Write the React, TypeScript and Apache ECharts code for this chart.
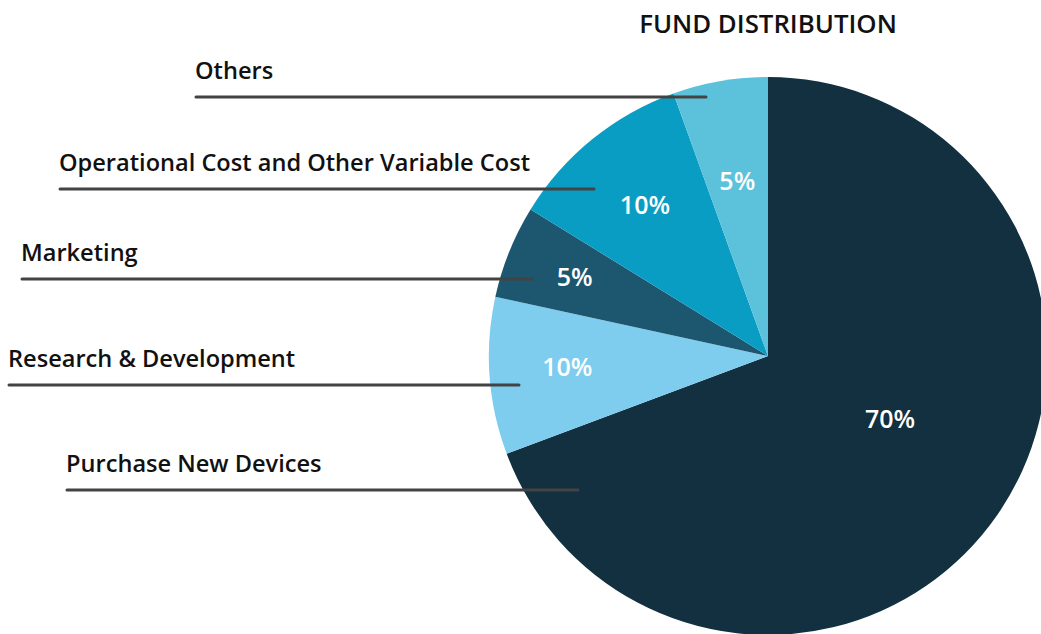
import React, { useEffect, useRef } from "react";
import * as echarts from "echarts";

// ---- data ----
const chartTitle = "FUND DISTRIBUTION";
const categories = [
  "Purchase New Devices",
  "Research & Development",
  "Marketing",
  "Operational Cost and Other Variable Cost",
  "Others",
];
const shares = [69.3, 9.1, 5.4, 10.7, 5.5];
// percentages printed on the slices
const percentLabels = ["70%", "10%", "5%", "10%", "5%"];

// ---- layout / style ----
const COLORS = ["#12303F", "#7ECDEE", "#1D566F", "#0A9DC3", "#5CC1DB"];
const CX = 768;
const CY = 356;
const R = 279;
const LABEL_RADIUS = [0.49, 0.72, 0.75, 0.7, 0.64];
const LABEL_ANGLE_SHIFT = [-8, 1.3, 0.6, 0, 0];
const CALLOUT_X = [67, 9, 22, 60, 196];
const CALLOUT_Y = [490, 385, 279, 189, 97];
const CALLOUT_END = [578, 519, 532, 594, 706];
const FONT = '"Open Sans", "Noto Sans", sans-serif';

function midAngles(): number[] {
  const total = shares.reduce((a, b) => a + b, 0);
  let acc = 0;
  return shares.map((v) => {
    const start = acc;
    acc += (v / total) * 360;
    return (start + acc) / 2;
  });
}

export default function App() {
  const ref = useRef<HTMLDivElement>(null);
  useEffect(() => {
    if (!ref.current) return;
    const chart = echarts.init(ref.current, undefined, { renderer: "svg" });
    const mids = midAngles();
    const graphics: any[] = [
      {
        type: "text",
        x: 768,
        y: 23,
        z: 100,
        style: {
          text: chartTitle,
          fill: "#111111",
          fontSize: 25.8,
          fontWeight: 600,
          fontFamily: FONT,
          align: "center",
          verticalAlign: "middle",
        },
      },
    ];
    categories.forEach((name, i) => {
      graphics.push({
        type: "line",
        z: 100,
        shape: { x1: CALLOUT_X[i], y1: CALLOUT_Y[i], x2: CALLOUT_END[i], y2: CALLOUT_Y[i] },
        style: { stroke: "#434343", lineWidth: 3, lineCap: "round" },
      });
      graphics.push({
        type: "text",
        z: 100,
        x: CALLOUT_X[i] - 1,
        y: CALLOUT_Y[i] - 27,
        style: {
          text: name,
          fill: "#111111",
          fontSize: 23.6,
          fontWeight: 600,
          fontFamily: FONT,
          align: "left",
          verticalAlign: "middle",
        },
      });
    });
    chart.setOption({
      animation: false,
      backgroundColor: "#ffffff",
      graphic: graphics,
      series: [
        {
          type: "pie",
          center: [CX, CY],
          radius: R,
          startAngle: 90,
          clockwise: true,
          silent: true,
          avoidLabelOverlap: false,
          data: categories.map((name, i) => ({
            name,
            value: shares[i],
            itemStyle: { color: COLORS[i] },
          })),
          label: {
            show: true,
            position: "inside",
            formatter: (p: any) => percentLabels[p.dataIndex],
            color: "#ffffff",
            fontSize: 25,
            fontWeight: 600,
            fontFamily: FONT,
            align: "center",
            verticalAlign: "middle",
          },
          labelLine: { show: false },
          labelLayout: (p: any) => {
            const i = p.dataIndex;
            const a = ((mids[i] + LABEL_ANGLE_SHIFT[i]) * Math.PI) / 180;
            const rr = LABEL_RADIUS[i] * R;
            return {
              x: CX + rr * Math.sin(a),
              y: CY - rr * Math.cos(a),
              align: "center",
              verticalAlign: "middle",
            };
          },
          emphasis: { disabled: true },
        },
      ],
    });
    return () => chart.dispose();
  }, []);
  return (
    <div
      ref={ref}
      style={{ position: "fixed", left: 0, top: 0, width: 1041, height: 634 }}
    />
  );
}
